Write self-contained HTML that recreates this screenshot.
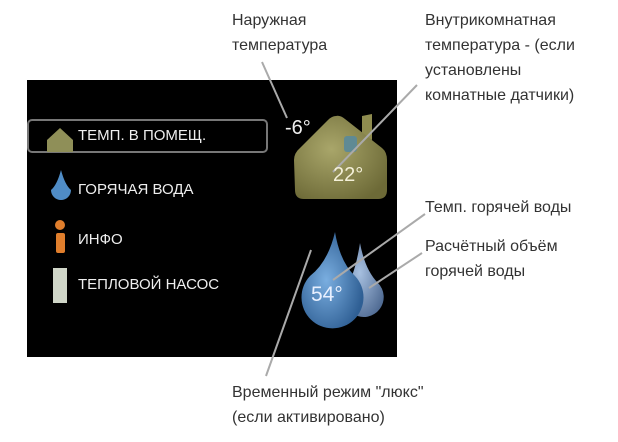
<!DOCTYPE html>
<html><head><meta charset="utf-8"><style>
body{margin:0;width:618px;height:442px;background:#fff;overflow:hidden;position:relative;font-family:"Liberation Sans","DejaVu Sans",sans-serif}
.t{position:absolute;color:#333;font-size:16px;line-height:25px;white-space:nowrap}
.m{position:absolute;color:#eee;font-size:15px;line-height:18px;white-space:nowrap}
</style></head><body>
<div style="position:absolute;left:27px;top:80px;width:370px;height:277px;background:#000"></div>
<svg width="618" height="442" style="position:absolute;left:0;top:0">
<defs>
<radialGradient id="hg" cx="0.4" cy="0.4" r="0.7"><stop offset="0" stop-color="#a9a66a"/><stop offset="1" stop-color="#6d6a37"/></radialGradient>
<radialGradient id="dg" cx="0.4" cy="0.5" r="0.6"><stop offset="0" stop-color="#7aaee0"/><stop offset="1" stop-color="#2f5f94"/></radialGradient>
<radialGradient id="dg2" cx="0.4" cy="0.4" r="0.7"><stop offset="0" stop-color="#a7c0e0"/><stop offset="1" stop-color="#4f6a92"/></radialGradient>
</defs>
<rect x="28" y="120" width="239" height="32" rx="4" fill="none" stroke="#777" stroke-width="2"/>
<path d="M60,128 L73,140 L73,152 L47,152 L47,140 Z" fill="#8f8f58"/>
<path d="M61,170 Q65,185 71,190 A10,10 0 1 1 51,190 Q57,185 61,170Z" fill="#4f8cc6"/>
<circle cx="60" cy="225" r="5" fill="#e07e2c"/>
<rect x="56" y="233" width="9" height="20" rx="2" fill="#e07e2c"/>
<rect x="53" y="268" width="14" height="35" fill="#d0d6c8"/>
<path d="M362,116 L372,114 L372,140 L362,134Z" fill="#8f8c4f"/>
<path d="M336,116 Q340,115 345,119 L382,148 Q387,152 387,160 L387,190 Q387,199 378,199 L304,199 Q295,199 295,190 L294,160 Q294,153 300,148 L328,120 Q332,116 336,116 Z" fill="url(#hg)"/>
<rect x="344" y="136" width="13" height="16" rx="3" fill="#5f8a94"/>
<path d="M360,243 Q365,270 378,283 A20,20 0 1 1 345,290 Q355,275 360,243Z" fill="url(#dg2)"/>
<path d="M335,232 Q340,262 355,276 A31,31 0 1 1 310,276 Q328,262 335,232Z" fill="url(#dg)"/>
<g stroke="#aaa" stroke-width="2">
<line x1="262" y1="62" x2="287" y2="118"/>
<line x1="417" y1="85" x2="333" y2="172"/>
<line x1="425" y1="214" x2="333" y2="280"/>
<line x1="422" y1="253" x2="369" y2="288"/>
<line x1="311" y1="250" x2="266" y2="376"/>
</g>
</svg>
<div class="m" style="left:78px;top:127px">ТЕМП. В ПОМЕЩ.</div>
<div class="m" style="left:78px;top:181px">ГОРЯЧАЯ ВОДА</div>
<div class="m" style="left:78px;top:231px">ИНФО</div>
<div class="m" style="left:78px;top:276px">ТЕПЛОВОЙ НАСОС</div>
<div class="m" style="left:285px;top:119px;font-size:20px">-6°</div>
<div class="m" style="left:333px;top:166px;font-size:20px;color:#f4f0d8">22°</div>
<div class="m" style="left:311px;top:286px;font-size:21px;color:#e8f0ff">54°</div>
<div class="t" style="left:232px;top:8px">Наружная<br>температура</div>
<div class="t" style="left:425px;top:8px">Внутрикомнатная<br>температура - (если<br>установлены<br>комнатные датчики)</div>
<div class="t" style="left:425px;top:195px">Темп. горячей воды</div>
<div class="t" style="left:425px;top:234px">Расчётный объём<br>горячей воды</div>
<div class="t" style="left:232px;top:380px">Временный режим "люкс"<br>(если активировано)</div>
</body></html>
